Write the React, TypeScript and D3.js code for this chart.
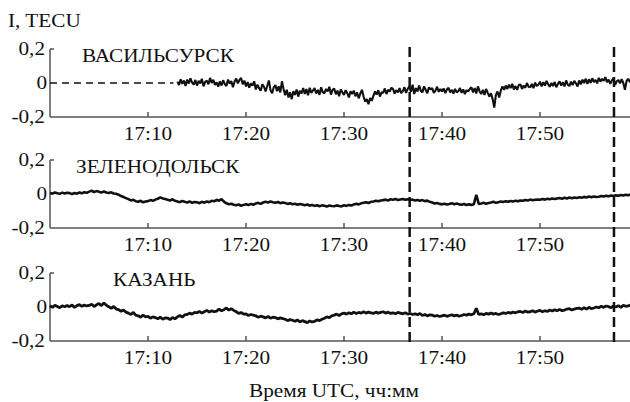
import React from "react";
import * as d3 from "d3";

// values in mTECU (1/1000 TECU)
// ВАСИЛЬСУРСК: starts 17:13, 6 samples / min
const vasStart = 13;
const vasStep = 1 / 6;
const vasilsursk = [
  8, -12, 22, -5, 15, -18,
  20, -3, 28, 2, -10, 18,
  -15, 12, -2, 25, -20, 6,
  14, -8, 30, 0, 19, -12,
  4, -22, 10, -15, 16, -6,
  -18, 20, -4, 12, -25, 9,
  26, -2, 18, 30, -8, 14,
  -20, 5, -28, -2, -15, 10,
  -38, -10, -30, -45, -8, -22,
  -50, -18, 15, -42, -60, -25,
  -12, -48, -20, -55, 10, -35,
  -72, -40, -85, -55, -95, -48,
  -70, -38, -80, -45, -62, -30,
  -65, -35, -72, -28, -58, -44,
  -30, -62, -40, -70, -25, -55,
  -60, -35, -50, -22, -68, -40,
  -32, -66, -45, -78, -38, -55,
  -70, -42, -60, -85, -48, -65,
  -45, -78, -55, -90, -62, -40,
  -80, -110, -95, -125, -88, -105,
  -75, -50, -68, -42, -80, -55,
  -58, -32, -65, -40, -50, -28,
  -35, -62, -42, -55, -30, -60,
  -48, -25, -58, -35, -20, -52,
  -10, -65, -30, -50, -15, -45,
  -55, -20, -40, -60, -25, -38,
  -30, -58, -45, -22, -52, -35,
  -50, -32, -60, -38, -28, -55,
  -40, -62, -35, -55, -48, -30,
  -58, -38, -65, -42, -50, -35,
  -25, -55, -30, -62, -20, -48,
  -65, -40, -70, -35, -58, -80,
  -60, -95, -145, -70, -50, -85,
  -45, -20, -40, -15, -35, -10,
  -30, -5, -38, -18, -40, -12,
  -8, -35, -15, -28, 0, -22,
  -25, -5, -30, 2, -18, -10,
  8, -20, 5, -15, 12, -8,
  -22, 0, -18, 6, -25, -5,
  10, -15, 4, -20, 15, -10,
  -18, 8, -12, 12, -2, -20,
  15, -8, 20, 0, 25, -5,
  22, 0, 28, 5, 18, -2,
  30, 8, 25, 12, 35, 5,
  20, -5, 15, 28, -10, 10,
  18, -2, 22, 0, -40, 12,
  25, 5, 20, -8, 15, 10,
];

// ЗЕЛЕНОДОЛЬСК: starts 17:00, 4 samples / min
const zelStart = 0;
const zelStep = 0.25;
const zelenodolsk = [
  6, 2, 9, 4, 1, 8, 3, 7, 5, -1, 6, 2, 9, 4, 11, 7,
  14, 19, 12, 17, 13, 8, 15, 9, 6, 10, 3, 1, -4, -12, -18, -24,
  -30, -38, -34, -42, -46, -40, -49, -44, -42, -36, -40, -33, -28, -20, -26, -30,
  -34, -38, -31, -40, -44, -48, -41, -46, -50, -44, -52, -47, -49, -54, -46, -51,
  -44, -48, -40, -43, -34, -40, -30, -45, -55, -60, -57, -63, -66, -62, -69, -64,
  -60, -65, -58, -63, -56, -52, -58, -50, -46, -50, -44, -49, -52, -47, -54, -50,
  -53, -58, -55, -60, -57, -63, -59, -62, -66, -62, -68, -64, -70, -66, -72, -67,
  -69, -74, -68, -71, -72, -67, -70, -73, -66, -70, -64, -68, -62, -58, -61, -55,
  -52, -48, -53, -46, -44, -40, -43, -38, -36, -33, -38, -31, -34, -30, -35, -32,
  -29, -34, -31, -35, -33, -38, -35, -40, -36, -42, -39, -46, -50, -56, -53, -58,
  -61, -57, -62, -59, -55, -60, -56, -61, -63, -59, -65, -61, -64, -60, -5, -58,
  -56, -52, -57, -53, -50, -46, -52, -48, -44, -47, -42, -46, -41, -44, -39, -43,
  -38, -40, -35, -38, -33, -37, -34, -32, -34, -30, -33, -28, -31, -27, -30, -26,
  -24, -28, -22, -26, -21, -25, -20, -23, -19, -22, -17, -20, -15, -19, -14, -18,
  -16, -12, -15, -11, -13, -9, -12, -8, -10, -6, -9, -4, -7, -3, -6, -2,
];

// КАЗАНЬ: starts 17:00, 4 samples / min
const kazStart = 0;
const kazStep = 0.25;
const kazan = [
  8, -2, 10, 3, -4, 7, 1, 9, 2, 12, -3, 8, 14, 4, 11, 6,
  9, 16, 3, 13, 20, 8, 24, 10, 2, -8, 4, -12, -15, -25, -18, -30,
  -36, -44, -32, -48, -52, -60, -48, -58, -55, -66, -58, -62, -70, -60, -72, -64,
  -65, -74, -62, -70, -58, -50, -60, -46, -44, -36, -42, -32, -34, -26, -36, -28,
  -20, -30, -22, -28, -24, -12, -22, -16, -6, -18, -10, -20, -28, -38, -32, -42,
  -40, -50, -44, -48, -52, -60, -54, -58, -64, -56, -66, -60, -62, -70, -64, -68,
  -72, -80, -74, -78, -84, -76, -88, -80, -86, -92, -82, -88, -84, -76, -80, -72,
  -66, -58, -62, -52, -48, -42, -50, -40, -36, -42, -34, -40, -30, -38, -32, -36,
  -28, -36, -30, -34, -38, -30, -36, -32, -28, -36, -30, -38, -34, -40, -32, -36,
  -40, -34, -42, -38, -44, -40, -46, -38, -50, -44, -52, -46, -48, -54, -50, -56,
  -52, -48, -55, -50, -46, -52, -48, -54, -50, -44, -48, -42, -46, -40, -8, -44,
  -40, -46, -38, -42, -36, -42, -38, -44, -40, -34, -38, -32, -36, -30, -34, -28,
  -26, -32, -24, -30, -28, -22, -30, -24, -20, -28, -22, -26, -18, -24, -16, -22,
  -14, -22, -18, -12, -10, -18, -12, -8, -6, -14, -4, -12, -2, -10, -6, 0,
  -4, 4, -2, 6, 2, -4, 6, 0, 8, -2, 10, 4, 6, 12, 2, 10,
];

const stations = ["ВАСИЛЬСУРСК", "ЗЕЛЕНОДОЛЬСК", "КАЗАНЬ"];
const xTicks = [10, 20, 30, 40, 50]; // minutes after 17:00
const yTicks = [0.2, 0, -0.2];
const yTickLabels = ["0,2", "0", "-0,2"];
const markers = [36.7, 57.55]; // vertical dashed lines, minutes after 17:00

const series = [
  { name: stations[0], start: vasStart, step: vasStep, values: vasilsursk, sw: 2.1 },
  { name: stations[1], start: zelStart, step: zelStep, values: zelenodolsk, sw: 2.6 },
  { name: stations[2], start: kazStart, step: kazStep, values: kazan, sw: 2.8 },
];

const W = 630;
const H = 402;
const left = 50;
const panelTops = [49, 160, 273];
const panelH = 68;
const nameX = [82, 76, 113];
const font = "'Liberation Serif', 'Times New Roman', 'DejaVu Serif', serif";
const SX = 1.18; // the figure's type is a bit wide

const x = d3.scaleLinear().domain([0, 60]).range([left, left + 588]);

const T = ({ x, y, anchor = "start", children }: any) => (
  <text
    transform={`translate(${x},${y}) scale(${SX},1)`}
    textAnchor={anchor}
    fontFamily={font}
    fontSize={18}
    fill="#111"
  >
    {children}
  </text>
);

const App = () => {
  return (
    <svg
      width={W}
      height={H}
      style={{ position: "absolute", left: 0, top: 0, background: "#fff" }}
    >
      <T x={8} y={27}>I, TECU</T>
      {series.map((s, k) => {
        const top = panelTops[k];
        const y = d3.scaleLinear().domain([-0.2, 0.2]).range([top + panelH, top]);
        const line = d3
          .line<number>()
          .x((d, i) => x(s.start + i * s.step))
          .y((d) => y(d / 1000));
        return (
          <g key={s.name}>
            {/* axes */}
            <line x1={left} x2={left} y1={top} y2={top + panelH} stroke="#555" strokeWidth={1.5} />
            <line x1={left} x2={W} y1={top + panelH} y2={top + panelH} stroke="#555" strokeWidth={1.5} />
            <line x1={left} x2={left + 4} y1={y(0.2)} y2={y(0.2)} stroke="#555" strokeWidth={1.5} />
            {xTicks.map((t) => (
              <g key={t}>
                <line x1={x(t)} x2={x(t)} y1={top + panelH} y2={top + panelH - 5} stroke="#555" strokeWidth={1.5} />
                <T x={x(t)} y={top + panelH + 23} anchor="middle">
                  {"17:" + String(t).padStart(2, "0")}
                </T>
              </g>
            ))}
            {yTicks.map((v, i) => (
              <T key={i} x={v === 0 ? 47 : 45} y={y(v) + 6} anchor="end">
                {yTickLabels[i]}
              </T>
            ))}
            <T x={nameX[k]} y={top + 13}>{s.name}</T>
            {s.start > 0 && (
              <line
                x1={x(0)}
                x2={x(s.start) - 4}
                y1={y(0)}
                y2={y(0)}
                stroke="#111"
                strokeWidth={1.5}
                strokeDasharray="7,5"
              />
            )}
            <path d={line(s.values) || ""} fill="none" stroke="#111" strokeWidth={s.sw} strokeLinejoin="bevel" />
          </g>
        );
      })}
      {markers.map((m) => (
        <line
          key={m}
          x1={x(m)}
          x2={x(m)}
          y1={panelTops[0] - 2}
          y2={panelTops[2] + panelH + 2}
          stroke="#111"
          strokeWidth={2.5}
          strokeDasharray="10,5"
        />
      ))}
      <T x={334} y={397} anchor="middle">Время UTC, чч:мм</T>
    </svg>
  );
};

export default App;
